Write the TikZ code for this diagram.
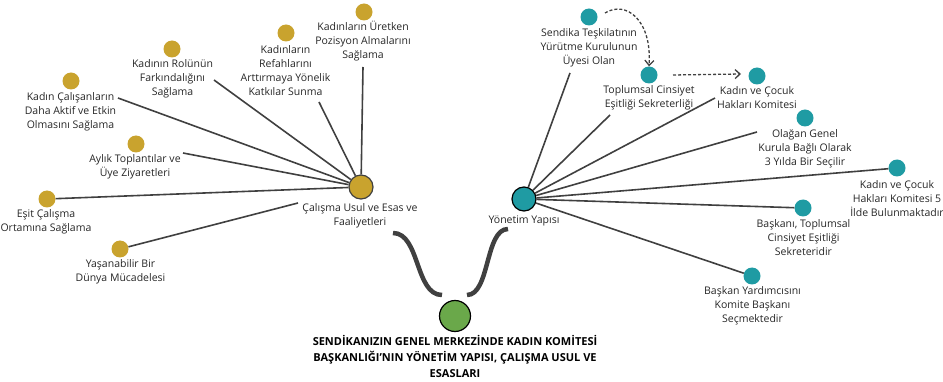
\documentclass[tikz,border=0pt]{standalone}
\usepackage{fontspec}
\setmainfont{Open Sans}
\usetikzlibrary{arrows.meta}
\definecolor{goldc}{HTML}{C9A32E}
\definecolor{tealc}{HTML}{1F9BA3}
\definecolor{greenc}{HTML}{6AA84A}
\definecolor{linec}{HTML}{404040}
\definecolor{textc}{HTML}{262626}
\begin{document}
\begin{tikzpicture}[x=1pt,y=-1pt,
  dot/.style={circle,inner sep=0pt,minimum size=17pt},
  golddot/.style={dot,fill=goldc},
  tealdot/.style={dot,fill=tealc},
  hub/.style={circle,inner sep=0pt,minimum size=24pt,line width=1.2pt,draw=black},
  lbl/.style={align=center,inner sep=0pt,text=textc,font=\fontsize{10.5}{14}\selectfont},
  title/.style={align=center,inner sep=0pt,text=black,font=\fontsize{11}{16}\selectfont\bfseries},
  spoke/.style={draw=linec,line width=1.6pt},
  stem/.style={draw=linec,line width=4.5pt},
  dasharrow/.style={draw=linec,line width=1.3pt,dash pattern=on 3pt off 2pt,
    -{Straight Barb[length=5pt,width=9pt]}}]
\useasboundingbox (0,0) rectangle (943,382);

% root of the diagram
\node[hub,fill=greenc,minimum size=31pt] (root) at (455,316) {};
\node[title] (rootlbl) at (455,356) {SENDİKANIZIN GENEL MERKEZİNDE KADIN KOMİTESİ\\BAŞKANLIĞI’NIN YÖNETİM YAPISI, ÇALIŞMA USUL VE\\ESASLARI};

% left hub: working principles
\node[hub,fill=goldc,draw=linec] (work) at (361,187) {};
\node[lbl] (worklbl) at (360,216) {Çalışma Usul ve Esas ve\\Faaliyetleri};

% right hub: management structure
\node[hub,fill=tealc] (mgmt) at (524,199) {};
\node[lbl] (mgmtlbl) at (524,221) {Yönetim Yapısı};

% stems from the root to both hubs
\coordinate (stemL) at (393,233);
\coordinate (stemR) at (508,229);
\coordinate (rootL) at (442,295);
\coordinate (rootR) at (467,295);
\draw[stem] (stemL) .. controls (420,233) and (415,295) .. (rootL);
\draw[stem] (rootR) .. controls (490,295) and (485,229) .. (stemR);

% gold leaves
\node[golddot] (g1) at (364,12) {};
\node[lbl] (g1l) at (363,41.5) {Kadınların Üretken\\Pozisyon Almalarını\\Sağlama};
\node[golddot] (g2) at (286,33) {};
\node[lbl] (g2l) at (285.5,70.5) {Kadınların\\Refahlarını\\Arttırmaya Yönelik\\Katkılar Sunma};
\node[golddot] (g3) at (172,49) {};
\node[lbl] (g3l) at (172.5,79) {Kadının Rolünün\\Farkındalığını\\Sağlama};
\node[golddot] (g4) at (71,81) {};
\node[lbl] (g4l) at (70.5,111.5) {Kadın Çalışanların\\Daha Aktif ve Etkin\\Olmasını Sağlama};
\node[golddot] (g5) at (136,144) {};
\node[lbl] (g5l) at (135,166.5) {Aylık Toplantılar ve\\Üye Ziyaretleri};
\node[golddot] (g6) at (47,199) {};
\node[lbl] (g6l) at (46,222) {Eşit Çalışma\\Ortamına Sağlama};
\node[golddot] (g7) at (120,249) {};
\node[lbl] (g7l) at (120.5,271.5) {Yaşanabilir Bir\\Dünya Mücadelesi};

\coordinate (g1s) at (363,67);
\coordinate (g2s) at (319,102);
\coordinate (g3s) at (214,80);
\coordinate (g4s) at (118,98);
\coordinate (g5s) at (183,153);
\coordinate (g7e) at (298,203);
\draw[spoke] (g1s) -- (work);
\draw[spoke] (g2s) -- (work);
\draw[spoke] (g3s) -- (work);
\draw[spoke] (g4s) -- (work);
\draw[spoke] (g5s) -- (work);
\draw[spoke] (g6) -- (work);
\draw[spoke] (g7) -- (g7e);

% teal leaves
\node[tealdot] (t1) at (589,17) {};
\node[lbl] (t1l) at (589,47.5) {Sendika Teşkilatının\\Yürütme Kurulunun\\Üyesi Olan};
\node[tealdot] (t2) at (649,75) {};
\node[lbl] (t2l) at (649,98) {Toplumsal Cinsiyet\\Eşitliği Sekreterliği};
\node[tealdot] (t3) at (757,76) {};
\node[lbl] (t3l) at (757,98) {Kadın ve Çocuk\\Hakları Komitesi};
\node[tealdot] (t4) at (805,118) {};
\node[lbl] (t4l) at (805,148.5) {Olağan Genel\\Kurula Bağlı Olarak\\3 Yılda Bir Seçilir};
\node[tealdot] (t5) at (897,168) {};
\node[lbl] (t5l) at (897,198.5) {Kadın ve Çocuk\\Hakları Komitesi 5\\İlde Bulunmaktadır};
\node[tealdot] (t6) at (803,208) {};
\node[lbl] (t6l) at (803.5,237.5) {Başkanı, Toplumsal\\Cinsiyet Eşitliği\\Sekreteridir};
\node[tealdot] (t7) at (752,276) {};
\node[lbl] (t7l) at (752.5,306) {Başkan Yardımcısını\\Komite Başkanı\\Seçmektedir};

\coordinate (t1s) at (570,73);
\coordinate (t2s) at (610,115);
\coordinate (t3s) at (715,98);
\coordinate (t4s) at (757,132);
\draw[spoke] (t1s) -- (mgmt);
\draw[spoke] (t2s) -- (mgmt);
\draw[spoke] (t3s) -- (mgmt);
\draw[spoke] (t4s) -- (mgmt);
\draw[spoke] (t5) -- (mgmt);
\draw[spoke] (t6) -- (mgmt);
\draw[spoke] (t7) -- (mgmt);

% dashed flow between the committee roles
\coordinate (a1s) at (605,13);
\coordinate (a2s) at (673,75);
\coordinate (a2e) at (741,74);
\draw[dasharrow] (a1s) .. controls (626,0) and (652,20) .. (t2.north);
\draw[dasharrow] (a2s) -- (a2e);
\end{tikzpicture}
\end{document}
